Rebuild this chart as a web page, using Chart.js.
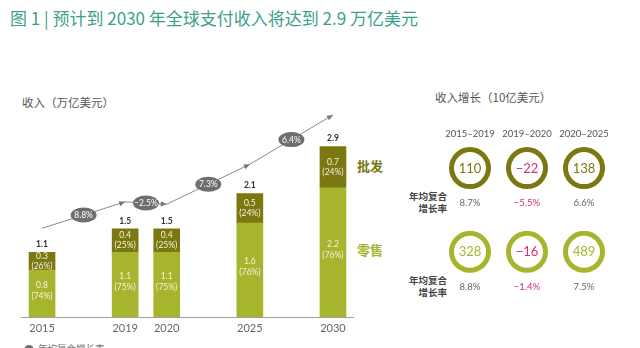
<!DOCTYPE html>
<html><head><meta charset="utf-8">
<script src="https://cdn.jsdelivr.net/npm/chart.js@4"></script>
<style>
html,body{margin:0;padding:0;background:#fff;width:640px;height:348px;overflow:hidden;}
#wrap{position:relative;width:640px;height:348px;font-family:Lato,"Noto Sans CJK SC",sans-serif;}
.t{position:absolute;white-space:nowrap;line-height:1;}
#title{left:10px;top:9px;font-size:17px;color:#3c9f8b;font-family:"Noto Sans CJK SC",sans-serif;}
#h1{left:22px;top:97px;font-size:11.5px;color:#555;font-family:"Noto Sans CJK SC",sans-serif;}
#h2{left:435px;top:92px;font-size:11.5px;color:#555;font-family:"Noto Sans CJK SC",sans-serif;}
.side{left:357px;font-size:13px;font-weight:bold;font-family:"Noto Sans CJK SC",sans-serif;}
.rl{right:193px;font-size:9.5px;font-weight:bold;color:#444;text-align:right;line-height:11.5px;font-family:"Noto Sans CJK SC",sans-serif;}
#leg{left:38px;top:344px;font-size:9.5px;color:#777;font-family:"Noto Sans CJK SC",sans-serif;}
#legdot{position:absolute;left:24px;top:345px;width:10px;height:10px;border-radius:50%;background:#6e6e6e;}
canvas{position:absolute;}
</style></head>
<body><div id="wrap">
<div class="t" id="title">图 1 | 预计到 2030 年全球支付收入将达到 2.9 万亿美元</div>
<div class="t" id="h1">收入（万亿美元）</div>
<div class="t" id="h2">收入增长（10亿美元）</div>
<div class="t side" style="top:159px;color:#7b7812;">批发</div>
<div class="t side" style="top:243px;color:#a7b52e;">零售</div>
<div class="t rl" style="top:191px;">年均复合<br>增长率</div>
<div class="t rl" style="top:275px;">年均复合<br>增长率</div>
<div id="legdot"></div>
<div class="t" id="leg">年均复合增长率</div>
<canvas id="c1" width="400" height="348" style="left:0;top:0;"></canvas>
<canvas id="c2" width="240" height="184" style="left:400px;top:118px;"></canvas>
</div>
<script>
// ---- data ----
const years = ['2015', '', '2019', '2020', '', '2025', '', '2030'];
const retail = [0.8, null, 1.1, 1.1, null, 1.6, null, 2.2];
const wholesale = [0.3, null, 0.4, 0.4, null, 0.5, null, 0.7];
const totals = ['1.1', null, '1.5', '1.5', null, '2.1', null, '2.9'];
const retailPct = ['74%', null, '75%', '75%', null, '76%', null, '76%'];
const wholesalePct = ['26%', null, '25%', '25%', null, '24%', null, '24%'];
const trend = [1.51, null, 1.96, 1.92, null, 2.60, null, 3.44];
const trendCagr = ['8.8%', '\u22122.5%', '7.3%', '6.4%'];

const periods = ['2015\u20132019', '2019\u20132020', '2020\u20132025'];
const wholesaleGrowth = ['110', '\u221222', '138'];
const retailGrowth = ['328', '\u221216', '489'];
const wholesaleCagr = ['8.7%', '\u22125.5%', '6.6%'];
const retailCagr = ['8.8%', '\u22121.4%', '7.5%'];

const DARK = '#7b7812', LIGHT = '#a7b52e', MAG = '#cc3270', GREY = '#6e6e6e';
const FONT = 'Lato, "Noto Sans CJK SC", sans-serif';

const barLabels = {
  id: 'barLabels',
  afterDatasetsDraw(chart) {
    const ctx = chart.ctx;
    const mR = chart.getDatasetMeta(0), mW = chart.getDatasetMeta(1), mL = chart.getDatasetMeta(2);
    ctx.save();
    ctx.textAlign = 'center'; ctx.textBaseline = 'middle';
    for (let i = 0; i < years.length; i++) {
      if (retail[i] == null) continue;
      const r = mR.data[i], w = mW.data[i];
      ctx.fillStyle = '#f4f2dc';
      ctx.font = '8.5px ' + FONT;
      let c = (r.y + r.base) / 2 - 3;
      ctx.fillText(retail[i].toFixed(1), r.x, c - 5.5);
      ctx.fillText('(' + retailPct[i] + ')', r.x, c + 5.5);
      c = (w.y + w.base) / 2;
      ctx.fillText(wholesale[i].toFixed(1), w.x, c - 5);
      ctx.fillText('(' + wholesalePct[i] + ')', w.x, c + 5);
      ctx.fillStyle = '#333';
      ctx.font = 'bold 8.5px ' + FONT;
      ctx.fillText(totals[i], w.x, w.y - 8);
    }
    // trend arrows and CAGR ellipses
    const pts = mL.data.filter((p, i) => trend[i] != null);
    for (let k = 1; k < pts.length; k++) {
      const a = pts[k - 1], b = pts[k];
      const ang = Math.atan2(b.y - a.y, b.x - a.x);
      ctx.save();
      ctx.translate(b.x, b.y); ctx.rotate(ang);
      ctx.fillStyle = '#777';
      ctx.beginPath(); ctx.moveTo(0, 0); ctx.lineTo(-6, -2.6); ctx.lineTo(-6, 2.6); ctx.closePath(); ctx.fill();
      ctx.restore();
      const mx = (a.x + b.x) / 2, my = (a.y + b.y) / 2;
      ctx.fillStyle = GREY;
      ctx.beginPath(); ctx.ellipse(mx, my, 13, 7.5, 0, 0, Math.PI * 2); ctx.fill();
      ctx.fillStyle = '#fff';
      ctx.font = '8.5px ' + FONT;
      ctx.fillText(trendCagr[k - 1], mx, my + 0.5);
    }
    ctx.restore();
  }
};

new Chart(document.getElementById('c1'), {
  type: 'bar',
  data: {
    labels: years,
    datasets: [
      { label: '零售', data: retail, backgroundColor: LIGHT, barThickness: 26, stack: 's', order: 2 },
      { label: '批发', data: wholesale, backgroundColor: DARK, barThickness: 26, stack: 's', order: 2 },
      { type: 'line', label: '年均复合增长率', data: trend, yAxisID: 'y2', borderColor: '#8a8a8a', borderWidth: 1,
        pointRadius: 0, spanGaps: true, tension: 0, order: 1 }
    ]
  },
  options: {
    responsive: false, animation: false, devicePixelRatio: 1,
    layout: { autoPadding: false, padding: { left: 21.25, right: 46.25, top: 82, bottom: 0 } },
    plugins: { legend: { display: false }, tooltip: { enabled: false } },
    scales: {
      x: { stacked: true, grid: { display: false, drawTicks: false },
           border: { display: true, color: '#a0a0a0', width: 1 },
           ticks: { color: '#666', font: { size: 11, family: FONT }, padding: 5, autoSkip: false, maxRotation: 0 },
           afterFit: s => { s.height = 31; } },
      y: { stacked: true, display: false, min: 0, max: 4 },
      y2: { display: false, min: 0, max: 4 }
    }
  },
  plugins: [barLabels]
});

const circleText = {
  id: 'circleText',
  afterDatasetsDraw(chart) {
    const ctx = chart.ctx;
    ctx.save();
    ctx.textAlign = 'center'; ctx.textBaseline = 'middle';
    const rows = [[wholesaleGrowth, wholesaleCagr, DARK], [retailGrowth, retailCagr, LIGHT]];
    rows.forEach((row, d) => {
      const meta = chart.getDatasetMeta(d);
      meta.data.forEach((p, i) => {
        const neg = row[0][i].startsWith('\u2212');
        ctx.fillStyle = neg ? MAG : row[2];
        ctx.font = '13px ' + FONT;
        ctx.fillText(row[0][i], p.x, p.y + 0.5);
        ctx.fillStyle = neg ? MAG : '#666';
        ctx.font = '9.5px ' + FONT;
        ctx.fillText(row[1][i], p.x, p.y + 35);
      });
    });
    ctx.restore();
  }
};

new Chart(document.getElementById('c2'), {
  type: 'line',
  data: {
    labels: periods,
    datasets: [
      { label: '批发', data: periods.map(() => 1), showLine: false, pointRadius: 18.5, pointBorderWidth: 5,
        pointBorderColor: DARK, pointBackgroundColor: '#fff' },
      { label: '零售', data: periods.map(() => 0), showLine: false, pointRadius: 18.5, pointBorderWidth: 5,
        pointBorderColor: LIGHT, pointBackgroundColor: '#fff' }
    ]
  },
  options: {
    responsive: false, animation: false, devicePixelRatio: 1,
    layout: { autoPadding: false, padding: { left: 41.5, right: 27.5, top: 0, bottom: 0 } },
    plugins: { legend: { display: false }, tooltip: { enabled: false } },
    scales: {
      x: { position: 'top', offset: true, grid: { display: false, drawTicks: false }, border: { display: false },
           ticks: { color: '#555', font: { size: 9.5, family: FONT }, padding: 3, maxRotation: 0 },
           afterFit: s => { s.height = 25; } },
      y: { display: false, min: -0.6, max: 1.3 }
    }
  },
  plugins: [circleText]
});
</script>
</body></html>
